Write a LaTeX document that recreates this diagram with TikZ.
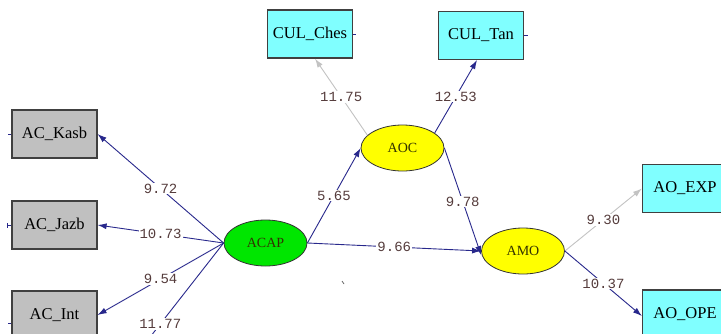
\documentclass[tikz,border=0pt]{standalone}
\usepackage{fontspec}
\setmainfont{Liberation Serif}
\setmonofont{Liberation Mono}
\usetikzlibrary{arrows.meta,shapes.geometric}
\definecolor{navyline}{RGB}{40,40,140}
\definecolor{grayline}{RGB}{195,195,195}
\definecolor{boxgray}{RGB}{192,192,192}
\definecolor{boxcyan}{RGB}{128,255,255}
\definecolor{latgreen}{RGB}{0,230,0}
\definecolor{latyellow}{RGB}{255,255,0}
\definecolor{labcol}{RGB}{85,60,60}
\definecolor{lattext}{RGB}{50,50,0}
\begin{document}
\begin{tikzpicture}[x=1pt,y=-1pt,
  obs/.style={draw=black!75,line width=1.2pt,minimum width=85pt,minimum height=48pt,inner sep=0pt,font=\fontsize{16.5}{16.5}\selectfont},
  obsg/.style={obs,fill=boxgray},
  obsc/.style={obs,fill=boxcyan},
  lat/.style={ellipse,draw=black!80,line width=0.8pt,minimum width=83pt,minimum height=46pt,inner sep=0pt,text=lattext,font=\fontsize{14}{14}\selectfont},
  conn/.style={draw=navyline,line width=0.9pt,-{Latex[length=9pt,width=6pt]}},
  conng/.style={conn,draw=grayline},
  stub/.style={draw=navyline,line width=0.9pt},
  lab/.style={fill=white,inner sep=1pt,font=\ttfamily\fontsize{14}{14}\selectfont,text=labcol}
]
\useasboundingbox (0,0) rectangle (721,333);
\fill[white] (0,0) rectangle (721,333);

% observed boxes
\node[obsg] (AC_Kasb) at (54.5,134) {AC\_Kasb};
\node[obsg] (AC_Jazb) at (54.5,225) {AC\_Jazb};
\node[obsg] (AC_Int)  at (54.5,315) {AC\_Int};
\coordinate (AC_Four) at (97,405);
\node[obsc] (CUL_Ches) at (310,34) {CUL\_Ches};
\node[obsc] (CUL_Tan)  at (481,35.5) {CUL\_Tan};
\node[obsc] (AO_EXP) at (685,188.5) {AO\_EXP};
\node[obsc] (AO_OPE) at (685,314) {AO\_OPE};

% latent ellipses
\node[lat,fill=latgreen] (ACAP) at (265.5,243) {ACAP};
\node[lat,fill=latyellow] (AOC) at (402.5,148) {AOC};
\node[lat,fill=latyellow] (AMO) at (523,251) {AMO};

% paths
\draw[conn] (ACAP.west) -- node[lab,midway]{9.72} (AC_Kasb.east);
\draw[conn] (ACAP.west) -- node[lab,midway]{10.73} (AC_Jazb.east);
\draw[conn] (ACAP.west) -- node[lab,midway]{9.54} (AC_Int.east);
\draw[conn] (ACAP.west) -- node[lab,midway]{11.77} (AC_Four);
\draw[conn] (ACAP.east) -- node[lab,midway]{5.65} (AOC.west);
\draw[conn] (ACAP.east) -- node[lab,midway]{9.66} (AMO.west);
\draw[conn] (AOC.east) -- node[lab,midway]{9.78} ([yshift=-4pt]AMO.west);
\draw[conng] (AOC.160) -- node[lab,midway]{11.75} ([xshift=5pt]CUL_Ches.south);
\draw[conn] (AOC.25) -- node[lab,midway]{12.53} ([xshift=-4pt]CUL_Tan.south);
\draw[conng] (AMO.east) -- node[lab,midway]{9.30} (AO_EXP.west);
\draw[conn] (AMO.east) -- node[lab,midway]{10.37} ([yshift=-2pt]AO_OPE.west);

% error stubs
\draw[stub] ([xshift=-3pt]AC_Kasb.west) -- (AC_Kasb.west);
\draw[stub] ([xshift=-4pt]AC_Jazb.west) -- (AC_Jazb.west);
\draw[stub] ([xshift=-4pt,yshift=-2.5pt]AC_Jazb.west) -- ([xshift=-4pt,yshift=2.5pt]AC_Jazb.west);
\draw[stub] ([xshift=-3pt,yshift=-8pt]AC_Int.west) -- ([yshift=-8pt]AC_Int.west);
\draw[stub] (CUL_Ches.east) -- ([xshift=3pt]CUL_Ches.east);
\draw[stub] (CUL_Tan.east) -- ([xshift=4pt]CUL_Tan.east);

% stray mark
\coordinate (stray) at (342,281);
\draw[draw=black!60,line width=0.8pt] (stray) -- ++(2,3);
\end{tikzpicture}
\end{document}
